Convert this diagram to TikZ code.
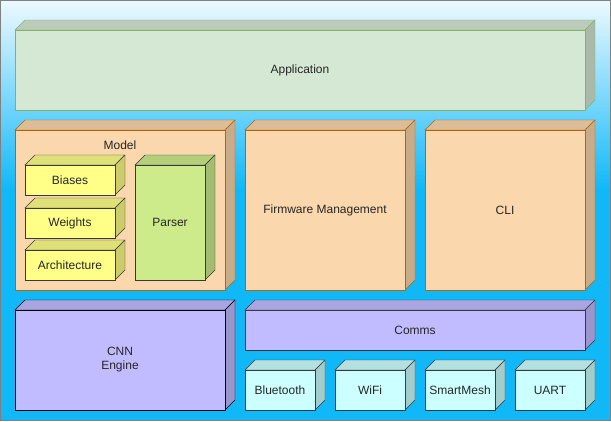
\documentclass[tikz,border=0pt]{standalone}
\usepackage{fontspec}
\setmainfont{Liberation Sans}
\begin{document}
\definecolor{bgtop}{HTML}{ECF9FF}
\definecolor{bgbot}{HTML}{10B8F8}
\definecolor{appF}{HTML}{D5E8D4}\definecolor{appS}{HTML}{82B366}
\definecolor{orF}{HTML}{FAD7AC}\definecolor{orS}{HTML}{B46504}
\definecolor{yeF}{HTML}{FFFF88}\definecolor{dkS}{HTML}{36393D}
\definecolor{grF}{HTML}{CDEB8B}
\definecolor{puF}{HTML}{C0BCFF}
\definecolor{cyF}{HTML}{CCFFFF}
\newcommand\mycube[9]{% name,x,y,w,h,fill,stroke,text,text position
  \fill[#6!88!black,draw=#7] (#2,#3+10) -- (#2+10,#3) -- (#2+#4,#3) -- (#2+#4-10,#3+10) -- cycle;
  \fill[#6!80!black,draw=#7] (#2+#4-10,#3+10) -- (#2+#4,#3) -- (#2+#4,#3+#5-10) -- (#2+#4-10,#3+#5) -- cycle;
  \node[box,fill=#6,draw=#7,minimum width=#4-10,minimum height=#5-10,anchor=north west] (#1) at (#2,#3+10) {};
  \node[txt] (#1-t) at #9 {#8};
}
\begin{tikzpicture}[x=1pt,y=-1pt,
  box/.style={rectangle,line width=0.8pt,inner sep=0pt,outer sep=0pt},
  txt/.style={font=\fontsize{12}{14}\selectfont,align=center,text=black!85}]
\useasboundingbox (0,0) rectangle (611,421);
\fill[bgbot] (0.5,190) rectangle (610.5,420.5);
\shade[top color=bgtop,bottom color=bgbot] (0.5,0.5) rectangle (610.5,190);
\draw[black!50,line width=0.8pt] (0.5,0.5) rectangle (610.5,420.5);
\mycube{app}{15}{20}{580}{90}{appF}{appS}{Application}{(app.center)}
\mycube{model}{15}{120}{220}{170}{orF}{orS}{Model}{(120,145)}
\mycube{fw}{245}{120}{170}{170}{orF}{orS}{Firmware Management}{(fw.center)}
\mycube{cli}{425}{120}{170}{170}{orF}{orS}{CLI}{(cli.center)}
\mycube{bias}{25}{155}{100}{40}{yeF}{dkS}{Biases}{(bias.center)}
\mycube{wts}{25}{198}{100}{40}{yeF}{dkS}{Weights}{(wts.center)}
\mycube{arch}{25}{240}{100}{40}{yeF}{dkS}{Architecture}{(arch.center)}
\mycube{parser}{135}{155}{80}{125}{grF}{dkS}{Parser}{(parser.center)}
\mycube{cnn}{15}{300}{220}{110}{puF}{black}{CNN\\Engine}{(cnn.center)}
\mycube{comms}{245}{300}{350}{50}{puF}{dkS}{Comms}{(comms.center)}
\mycube{bt}{245}{360}{80}{50}{cyF}{dkS}{Bluetooth}{(bt.center)}
\mycube{wifi}{335}{360}{80}{50}{cyF}{dkS}{WiFi}{(wifi.center)}
\mycube{sm}{425}{360}{80}{50}{cyF}{dkS}{SmartMesh}{(sm.center)}
\mycube{uart}{515}{360}{80}{50}{cyF}{dkS}{UART}{(uart.center)}
\end{tikzpicture}
\end{document}
